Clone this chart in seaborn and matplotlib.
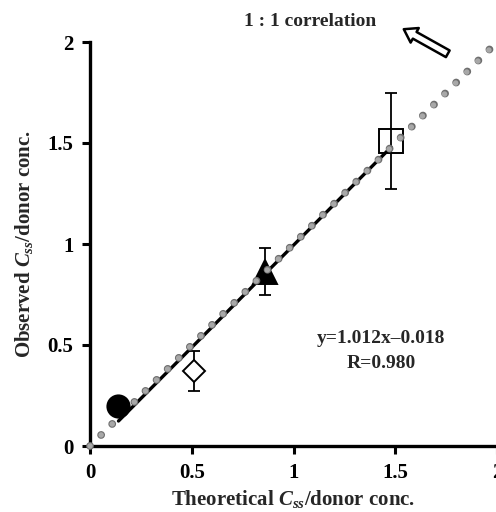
import numpy as np
import pandas as pd
import matplotlib
matplotlib.use("Agg")
import matplotlib.pyplot as plt
import seaborn as sns

# Data
theoretical = [0.14, 0.51, 0.86, 1.48]
observed = [0.20, 0.37, 0.86, 1.51]
err_low = [0.20, 0.27, 0.75, 1.27]
err_high = [0.20, 0.47, 0.98, 1.75]
groups = ["a", "b", "c", "d"]
has_err = [False, True, True, True]
fit_slope = 1.012
fit_intercept = -0.018
fit_x = [0.14, 1.48]

sns.set_style("ticks")
plt.rcParams["font.family"] = ["Liberation Serif", "DejaVu Serif"]
plt.rcParams["font.weight"] = "bold"
plt.rcParams["mathtext.fontset"] = "custom"
plt.rcParams["mathtext.it"] = "Liberation Serif:italic:bold"
plt.rcParams["mathtext.rm"] = "Liberation Serif:bold"
plt.rcParams["mathtext.bf"] = "Liberation Serif:bold"

fig = plt.figure(figsize=(4.96, 5.12), dpi=100)
ax = fig.add_axes([90 / 496, 66 / 512, 407 / 496, 404 / 512])

# 1:1 correlation as grey dots (dark rim + lighter fill)
gap = 11.2  # points between dots
for lw, col in [(5.6, "#6e6e6e"), (4.0, "#a8a8a8")]:
    ax.plot([0, 2], [0, 2], color=col, lw=lw, linestyle=(0, (0.01, gap / lw)),
            dash_capstyle="round", zorder=6, clip_on=False)

# regression line
fit_y = [fit_slope * x + fit_intercept for x in fit_x]
sns.lineplot(x=fit_x, y=fit_y, color="black", lw=2.4, ax=ax, zorder=3)

# error bars
for x, y, lo, hi, e in zip(theoretical, observed, err_low, err_high, has_err):
    if e:
        ax.errorbar([x], [y], yerr=[[y - lo], [hi - y]], fmt="none",
                    ecolor="black", elinewidth=1.3, capsize=4, capthick=1.3, zorder=2)

df = pd.DataFrame({"x": theoretical, "y": observed, "g": groups})
markers = {"a": "o", "b": "D", "c": "^", "d": "s"}
sizes = {"a": 16, "b": 11, "c": 17, "d": 17}
faces = {"a": "black", "b": "white", "c": "black", "d": "none"}
for g in groups:
    sub = df[df.g == g]
    ax.plot(sub.x, sub.y, marker=markers[g], ms=sizes[g],
            mfc=faces[g], mec="black", mew=1.4, ls="none",
            zorder=7 if g == "a" else 4)

ax.set_xlim(0, 2)
ax.set_ylim(0, 2)
ax.set_xticks([0, 0.5, 1, 1.5, 2])
ax.set_xticklabels(["0", "0.5", "1", "1.5", "2"])
ax.set_yticks([0, 0.5, 1, 1.5, 2])
ax.set_yticklabels(["0", "0.5", "1", "1.5", "2"])
ax.tick_params(direction="out", length=6, width=2.2, labelsize=15, pad=6, colors="black")
for s in ["left", "bottom"]:
    ax.spines[s].set_linewidth(2.4)
    ax.spines[s].set_color("black")
sns.despine(ax=ax)

ax.set_xlabel(r"Theoretical $C_{ss}$/donor conc.", fontsize=15, fontweight="bold")
ax.set_ylabel(r"Observed $C_{ss}$/donor conc.", fontsize=15, fontweight="bold")
ax.xaxis.set_label_coords(0.5, -0.105)
ax.yaxis.set_label_coords(-0.135, 0.5)

ax.text(1.43, 0.53, "y=1.012x\u20130.018", fontsize=14, fontweight="bold", ha="center", va="center")
ax.text(1.43, 0.41, "R=0.980", fontsize=14, fontweight="bold", ha="center", va="center")
ax.text(1.08, 2.10, "1 : 1 correlation", fontsize=14, fontweight="bold", ha="center",
        va="center", clip_on=False)

ax.annotate("", xy=(1.53, 2.07), xytext=(1.77, 1.935), xycoords="data",
            annotation_clip=False,
            arrowprops=dict(arrowstyle="simple,head_width=1.2,head_length=0.9,tail_width=0.55",
                            fc="white", ec="black", lw=1.8))

fig.savefig("out.png", dpi=100)
